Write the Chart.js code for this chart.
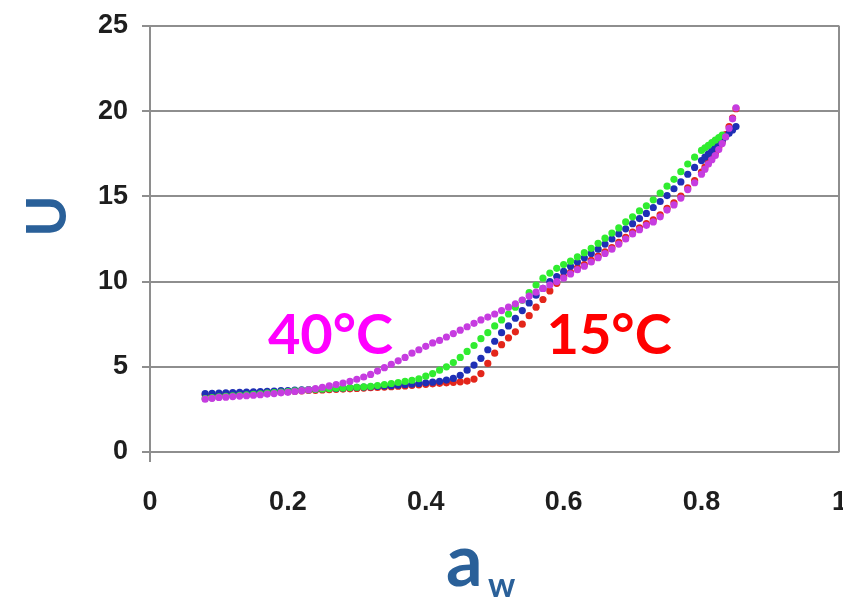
<!DOCTYPE html>
<html>
<head>
<meta charset="utf-8">
<script src="https://cdn.jsdelivr.net/npm/chart.js@4/dist/chart.umd.min.js"></script>
<style>
  html, body { margin: 0; padding: 0; background: #ffffff; }
  #wrap { width: 843px; height: 598px; position: relative; }
</style>
</head>
<body>
<div id="wrap"><canvas id="c" width="843" height="598"></canvas></div>
<script>
// water activity values (x)
const aw = [0.08,0.09,0.10,0.11,0.12,0.13,0.14,0.15,0.16,0.17,0.18,0.19,0.20,0.21,0.22,0.23,0.24,0.25,0.26,0.27,
  0.28,0.29,0.30,0.31,0.32,0.33,0.34,0.35,0.36,0.37,0.38,0.39,0.40,0.41,0.42,0.43,0.44,0.45,0.46,0.47,
  0.48,0.49,0.50,0.51,0.52,0.53,0.54,0.55,0.56,0.57,0.58,0.59,0.60,0.61,0.62,0.63,0.64,0.65,0.66,0.67,
  0.68,0.69,0.70,0.71,0.72,0.73,0.74,0.75,0.76,0.77,0.78,0.79,
  0.80,0.805,0.81,0.815,0.82,0.825,0.83,0.835,0.84,0.845,0.85];

// moisture content U for each temperature
const u15 = [3.36,3.38,3.39,3.41,3.42,3.44,3.46,3.47,3.49,3.50,3.52,3.54,3.56,3.57,3.59,3.61,3.62,3.64,3.66,3.68,
  3.69,3.71,3.73,3.75,3.77,3.79,3.81,3.83,3.86,3.88,3.91,3.94,3.97,4.00,4.03,4.06,4.09,4.12,4.16,4.28,
  4.60,5.20,5.80,6.30,6.70,7.05,7.50,8.00,8.50,8.95,9.45,9.90,10.30,10.55,10.80,11.00,11.25,11.50,11.75,12.00,
  12.30,12.60,12.90,13.15,13.40,13.62,13.92,14.30,14.62,15.02,15.50,15.92,
  16.42,16.72,17.02,17.28,17.55,17.88,18.22,18.62,19.10,19.60,20.15];

const u25 = [3.42,3.44,3.45,3.47,3.48,3.50,3.51,3.53,3.55,3.56,3.58,3.60,3.61,3.63,3.65,3.66,3.68,3.70,3.72,3.73,
  3.75,3.77,3.79,3.81,3.83,3.85,3.87,3.89,3.92,3.95,3.98,4.02,4.06,4.10,4.15,4.22,4.32,4.50,4.80,5.10,
  5.50,6.00,6.50,7.00,7.40,7.85,8.30,8.75,9.20,9.60,10.00,10.30,10.60,10.90,11.15,11.40,11.65,11.90,12.20,12.50,
  12.80,13.10,13.40,13.70,14.00,14.35,14.70,15.05,15.45,15.85,16.30,16.70,
  17.10,17.30,17.50,17.70,17.90,18.10,18.30,18.50,18.70,18.90,19.10];

const u30 = [3.14,3.19,3.24,3.27,3.30,3.33,3.35,3.38,3.41,3.45,3.48,3.52,3.55,3.59,3.62,3.65,3.68,3.70,3.72,3.74,
  3.76,3.78,3.80,3.82,3.85,3.90,3.96,4.02,4.08,4.14,4.21,4.30,4.45,4.60,4.80,5.00,5.25,5.55,5.90,6.25,
  6.65,7.00,7.40,7.75,8.10,8.50,8.90,9.35,9.80,10.20,10.50,10.78,11.00,11.20,11.45,11.70,11.95,12.25,12.55,12.85,
  13.15,13.50,13.80,14.15,14.45,14.80,15.20,15.60,16.00,16.45,16.90,17.30,
  17.70,17.85,18.00,18.15,18.30,18.45,18.60,null,null,null,null];

const u40 = [3.10,3.15,3.20,3.22,3.25,3.28,3.30,3.33,3.36,3.40,3.43,3.47,3.50,3.55,3.60,3.65,3.72,3.80,3.88,3.96,
  4.05,4.15,4.27,4.40,4.55,4.75,4.95,5.15,5.35,5.55,5.80,6.00,6.20,6.40,6.55,6.75,6.95,7.15,7.35,7.55,
  7.75,7.92,8.10,8.30,8.50,8.70,8.92,9.15,9.38,9.60,9.80,10.00,10.20,10.45,10.70,10.90,11.15,11.40,11.65,11.90,
  12.20,12.50,12.80,13.05,13.30,13.50,13.80,14.20,14.50,14.90,15.40,15.80,
  16.30,16.60,16.90,17.15,17.40,17.75,18.10,18.50,19.00,19.55,20.20];

const xTicks = [0, 0.2, 0.4, 0.6, 0.8, 1];
const yTicks = [0, 5, 10, 15, 20, 25];
const seriesNames = ['15°C', '25°C', '30°C', '40°C'];

function pts(ys) {
  return aw.map((x, i) => ({ x: x, y: ys[i] })).filter(p => p.y !== null);
}

const COL = { red: '#e3261b', blue: '#1f2fb5', green: '#30ec30', mag: '#c63ce0' };
const GRID = '#8e8e8e';

const textPlugin = {
  id: 'texts',
  afterDraw(chart) {
    const ctx = chart.ctx;
    const xs = chart.scales.x, ys = chart.scales.y;
    ctx.save();
    ctx.textBaseline = 'alphabetic';
    ctx.textAlign = 'left';
    ctx.font = 'bold 56px Lato';
    ctx.fillStyle = '#ff00ff';
    ctx.fillText(seriesNames[3], xs.getPixelForValue(0.171), ys.getPixelForValue(5.75));
    ctx.fillStyle = '#ff0000';
    ctx.fillText(seriesNames[0], xs.getPixelForValue(0.575), ys.getPixelForValue(5.75));
    // axis titles
    ctx.fillStyle = '#2a6099';
    ctx.font = 'bold 72px Lato';
    ctx.fillText('a', 446, 586);
    ctx.font = 'bold 34px Lato';
    ctx.fillText('w', 488, 597);
    ctx.translate(46, 216);
    ctx.rotate(-Math.PI / 2);
    ctx.textAlign = 'center';
    ctx.textBaseline = 'middle';
    ctx.font = 'bold 56px Lato';
    ctx.fillText('U', 0, 2);
    ctx.restore();
  }
};

const bgPlugin = {
  id: 'bg',
  beforeDraw(chart) {
    const ctx = chart.ctx;
    ctx.save();
    ctx.fillStyle = '#ffffff';
    ctx.fillRect(0, 0, chart.width, chart.height);
    ctx.restore();
  }
};

// lower "order" is painted on top in Chart.js
function ds(label, ys, color, order) {
  return {
    label: label, data: pts(ys), showLine: false, order: order,
    pointRadius: 3.6, pointHoverRadius: 3.6, pointBorderWidth: 0,
    backgroundColor: color, borderColor: color
  };
}

new Chart(document.getElementById('c'), {
  type: 'scatter',
  data: {
    datasets: [
      ds(seriesNames[0], u15, COL.red, 4),
      ds(seriesNames[1], u25, COL.blue, 3),
      ds(seriesNames[2], u30, COL.green, 2),
      ds(seriesNames[3], u40, COL.mag, 1)
    ]
  },
  options: {
    responsive: false,
    animation: false,
    layout: { padding: { top: 26, right: 3, left: 0, bottom: 0 } },
    plugins: { legend: { display: false }, tooltip: { enabled: false } },
    scales: {
      x: {
        type: 'linear', min: 0, max: 1,
        afterBuildTicks(s) { s.ticks = xTicks.map(v => ({ value: v })); },
        afterFit(s) { s.height = 146; s.paddingRight = 0; s.paddingLeft = 0; },
        border: { display: false },
        grid: {
          lineWidth: 2, tickLength: 10,
          color: (c) => (c.tick && (c.tick.value === 1)) ? GRID : 'rgba(0,0,0,0)',
          tickColor: (c) => (c.tick && c.tick.value === 0) ? GRID : 'rgba(0,0,0,0)'
        },
        ticks: {
          padding: 24, color: '#1e1e1e', maxRotation: 0,
          font: { family: 'Liberation Sans', size: 27, weight: 'bold' },
          callback: (v) => String(v)
        }
      },
      y: {
        type: 'linear', min: 0, max: 25,
        afterBuildTicks(s) { s.ticks = yTicks.map(v => ({ value: v })); },
        afterFit(s) { s.width = 150; s.paddingTop = 0; s.paddingBottom = 0; },
        border: { display: true, color: GRID, width: 2 },
        grid: { color: GRID, lineWidth: 2, tickLength: 8 },
        ticks: {
          padding: 14, color: '#1e1e1e',
          font: { family: 'Liberation Sans', size: 27, weight: 'bold' }
        }
      }
    }
  },
  plugins: [bgPlugin, textPlugin]
});
</script>
</body>
</html>
